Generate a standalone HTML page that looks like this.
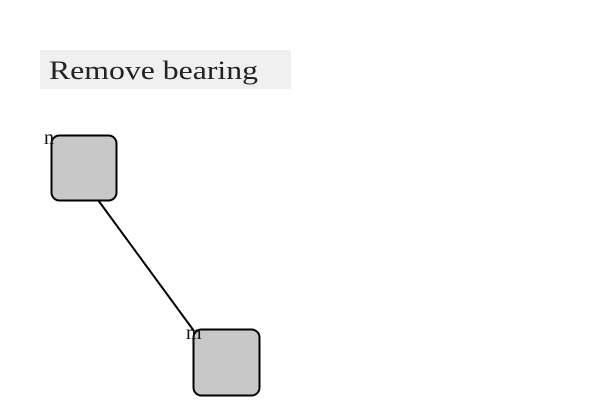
<!DOCTYPE html>
<html><head><meta charset="utf-8"><style>
html,body{margin:0;padding:0;background:#fff;width:600px;height:400px;overflow:hidden}
</style></head><body>
<svg width="600" height="400" xmlns="http://www.w3.org/2000/svg">
<rect x="40" y="50" width="251" height="39" fill="#f0f0f0"/>
<text x="49" y="79" font-family="Liberation Serif, serif" font-size="26" fill="#222" textLength="209" lengthAdjust="spacingAndGlyphs">Remove bearing</text>
<line x1="98" y1="200" x2="194" y2="331" stroke="#000" stroke-width="2"/>
<rect x="51.5" y="135.5" width="65" height="65" rx="8" fill="#c8c8c8" stroke="#000" stroke-width="2"/>
<rect x="193.5" y="329.5" width="66" height="66" rx="8" fill="#c8c8c8" stroke="#000" stroke-width="2"/>
<text x="44" y="144" font-family="Liberation Serif, serif" font-size="20" fill="#111">n</text>
<text x="186" y="339" font-family="Liberation Serif, serif" font-size="20" fill="#111">m</text>
</svg>
</body></html>
